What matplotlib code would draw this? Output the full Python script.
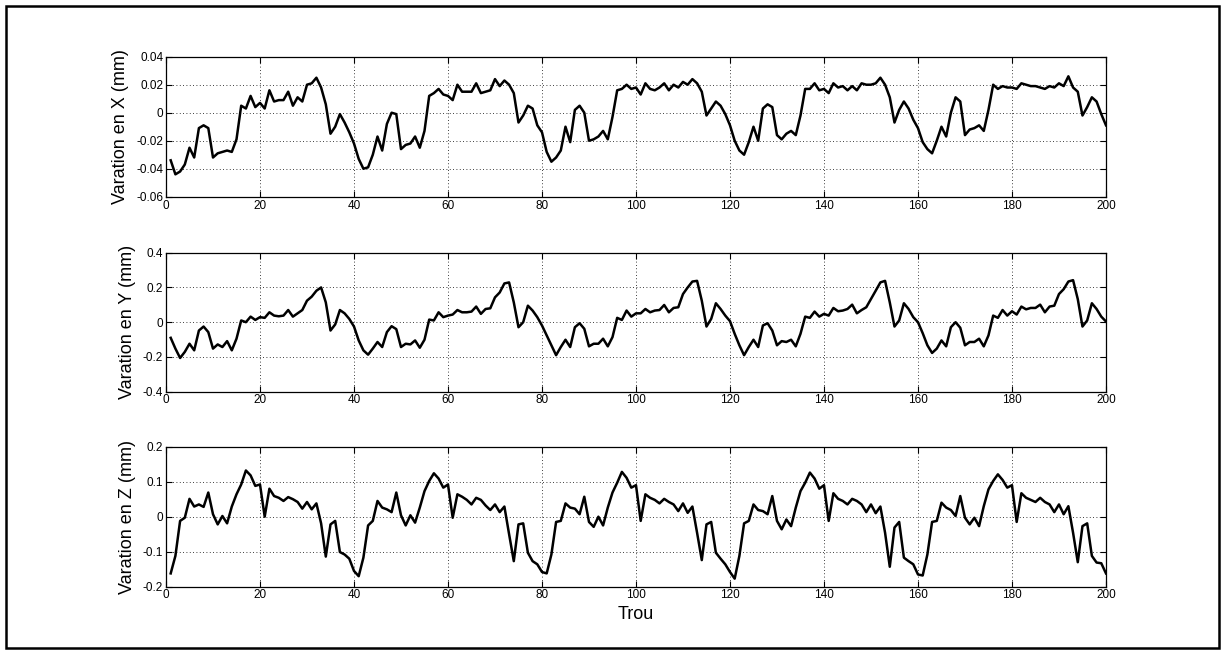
import matplotlib
matplotlib.use("Agg")
import matplotlib.pyplot as plt
from matplotlib.patches import Rectangle
import numpy as np

plt.rcParams['font.family'] = ['Liberation Sans', 'DejaVu Sans']

holes = list(range(1, 201))

var_x = [
    -0.034, -0.044, -0.042, -0.037, -0.025, -0.032, -0.011, -0.009, -0.011, -0.032,
    -0.029, -0.028, -0.027, -0.028, -0.019, 0.005, 0.003, 0.012, 0.004, 0.007,
    0.003, 0.016, 0.008, 0.009, 0.009, 0.015, 0.005, 0.011, 0.008, 0.020,
    0.021, 0.025, 0.018, 0.006, -0.015, -0.010, -0.001, -0.007, -0.014, -0.022,
    -0.033, -0.040, -0.039, -0.030, -0.017, -0.027, -0.008, 0.000, -0.001, -0.026,
    -0.023, -0.022, -0.017, -0.025, -0.013, 0.012, 0.014, 0.017, 0.013, 0.012,
    0.009, 0.020, 0.015, 0.015, 0.015, 0.021, 0.014, 0.015, 0.016, 0.024,
    0.019, 0.023, 0.020, 0.014, -0.007, -0.002, 0.005, 0.003, -0.009, -0.014,
    -0.028, -0.035, -0.032, -0.027, -0.010, -0.021, 0.002, 0.005, 0.000, -0.020,
    -0.019, -0.017, -0.013, -0.019, -0.003, 0.016, 0.017, 0.020, 0.017, 0.018,
    0.013, 0.021, 0.017, 0.016, 0.018, 0.021, 0.016, 0.020, 0.018, 0.022,
    0.020, 0.024, 0.021, 0.015, -0.002, 0.003, 0.008, 0.005, -0.001, -0.009,
    -0.020, -0.027, -0.030, -0.021, -0.010, -0.020, 0.003, 0.006, 0.004, -0.016,
    -0.019, -0.015, -0.013, -0.016, -0.002, 0.017, 0.017, 0.021, 0.016, 0.017,
    0.014, 0.021, 0.018, 0.019, 0.016, 0.019, 0.016, 0.021, 0.020, 0.020,
    0.021, 0.025, 0.020, 0.011, -0.007, 0.002, 0.008, 0.003, -0.005, -0.011,
    -0.021, -0.026, -0.029, -0.020, -0.010, -0.017, 0.000, 0.011, 0.008, -0.016,
    -0.012, -0.011, -0.009, -0.013, 0.002, 0.020, 0.017, 0.019, 0.018, 0.018,
    0.017, 0.021, 0.020, 0.019, 0.019, 0.018, 0.017, 0.019, 0.018, 0.021,
    0.019, 0.026, 0.018, 0.015, -0.002, 0.004, 0.011, 0.008, -0.001, -0.009,
]

var_y = [
    -0.090, -0.152, -0.206, -0.171, -0.124, -0.162, -0.048, -0.025, -0.057, -0.152,
    -0.128, -0.143, -0.109, -0.162, -0.095, 0.010, 0.000, 0.032, 0.013, 0.029,
    0.025, 0.057, 0.038, 0.034, 0.038, 0.070, 0.032, 0.051, 0.070, 0.124,
    0.147, 0.181, 0.200, 0.114, -0.048, -0.013, 0.070, 0.051, 0.019, -0.025,
    -0.105, -0.162, -0.187, -0.152, -0.114, -0.143, -0.057, -0.023, -0.040, -0.143,
    -0.124, -0.128, -0.105, -0.147, -0.101, 0.015, 0.010, 0.057, 0.029, 0.038,
    0.044, 0.070, 0.057, 0.057, 0.061, 0.090, 0.048, 0.076, 0.080, 0.143,
    0.171, 0.223, 0.229, 0.114, -0.029, 0.000, 0.095, 0.067, 0.029, -0.019,
    -0.076, -0.133, -0.190, -0.143, -0.101, -0.143, -0.029, -0.006, -0.038, -0.139,
    -0.124, -0.124, -0.095, -0.139, -0.086, 0.025, 0.013, 0.067, 0.032, 0.051,
    0.051, 0.076, 0.057, 0.067, 0.070, 0.099, 0.057, 0.082, 0.086, 0.162,
    0.200, 0.234, 0.238, 0.124, -0.025, 0.019, 0.109, 0.076, 0.038, 0.006,
    -0.067, -0.133, -0.190, -0.143, -0.101, -0.143, -0.019, -0.006, -0.048, -0.133,
    -0.109, -0.114, -0.101, -0.139, -0.067, 0.032, 0.025, 0.061, 0.032, 0.048,
    0.038, 0.082, 0.063, 0.067, 0.076, 0.101, 0.051, 0.070, 0.086, 0.133,
    0.181, 0.229, 0.238, 0.114, -0.025, 0.010, 0.109, 0.076, 0.029, 0.000,
    -0.063, -0.133, -0.177, -0.152, -0.105, -0.139, -0.029, 0.000, -0.032, -0.133,
    -0.114, -0.114, -0.095, -0.139, -0.076, 0.038, 0.025, 0.070, 0.038, 0.063,
    0.044, 0.090, 0.074, 0.082, 0.082, 0.101, 0.057, 0.090, 0.095, 0.162,
    0.190, 0.234, 0.242, 0.133, -0.025, 0.010, 0.109, 0.076, 0.032, 0.004,
]

var_z = [
    -0.162, -0.112, -0.012, -0.003, 0.051, 0.029, 0.035, 0.028, 0.069, 0.007,
    -0.022, 0.002, -0.019, 0.029, 0.064, 0.092, 0.132, 0.118, 0.088, 0.092,
    0.000, 0.080, 0.059, 0.054, 0.045, 0.056, 0.050, 0.042, 0.023, 0.042,
    0.021, 0.038, -0.019, -0.114, -0.022, -0.012, -0.101, -0.108, -0.120, -0.155,
    -0.170, -0.117, -0.025, -0.012, 0.045, 0.026, 0.021, 0.013, 0.069, 0.004,
    -0.025, 0.004, -0.017, 0.026, 0.073, 0.102, 0.124, 0.109, 0.083, 0.092,
    -0.003, 0.064, 0.057, 0.048, 0.035, 0.054, 0.048, 0.032, 0.019, 0.035,
    0.013, 0.029, -0.050, -0.127, -0.022, -0.019, -0.103, -0.127, -0.136, -0.158,
    -0.162, -0.108, -0.015, -0.012, 0.038, 0.026, 0.023, 0.007, 0.057, -0.015,
    -0.029, 0.000, -0.025, 0.026, 0.069, 0.097, 0.128, 0.111, 0.083, 0.090,
    -0.012, 0.064, 0.054, 0.048, 0.038, 0.051, 0.042, 0.035, 0.016, 0.038,
    0.011, 0.029, -0.046, -0.124, -0.022, -0.015, -0.103, -0.120, -0.136, -0.158,
    -0.177, -0.112, -0.019, -0.012, 0.035, 0.019, 0.016, 0.007, 0.059, -0.012,
    -0.036, -0.008, -0.027, 0.026, 0.073, 0.097, 0.126, 0.109, 0.080, 0.090,
    -0.012, 0.067, 0.051, 0.045, 0.035, 0.051, 0.045, 0.035, 0.013, 0.035,
    0.010, 0.029, -0.046, -0.143, -0.031, -0.015, -0.117, -0.127, -0.136, -0.165,
    -0.168, -0.108, -0.015, -0.012, 0.040, 0.026, 0.019, 0.002, 0.059, -0.003,
    -0.022, -0.003, -0.027, 0.030, 0.078, 0.102, 0.121, 0.105, 0.083, 0.090,
    -0.015, 0.067, 0.054, 0.048, 0.042, 0.054, 0.042, 0.035, 0.013, 0.035,
    0.007, 0.030, -0.046, -0.130, -0.027, -0.019, -0.112, -0.131, -0.133, -0.162,
]

xticks = list(range(0, 201, 20))
yticks_x = [-0.06, -0.04, -0.02, 0, 0.02, 0.04]
ylabels_x = ['-0.06', '-0.04', '-0.02', '0', '0.02', '0.04']
yticks_y = [-0.4, -0.2, 0, 0.2, 0.4]
ylabels_y = ['-0.4', '-0.2', '0', '0.2', '0.4']
yticks_z = [-0.2, -0.1, 0, 0.1, 0.2]
ylabels_z = ['-0.2', '-0.1', '0', '0.1', '0.2']

fig = plt.figure(figsize=(12.26, 6.54), dpi=100)
fig.patch.set_facecolor('white')

panels = [
    ([0.1354, 0.6992, 0.7667, 0.2141], var_x, yticks_x, ylabels_x, 'Varation en X (mm)'),
    ([0.1354, 0.4011, 0.7667, 0.2125], var_y, yticks_y, ylabels_y, 'Varation en Y (mm)'),
    ([0.1354, 0.1029, 0.7667, 0.2141], var_z, yticks_z, ylabels_z, 'Varation en Z (mm)'),
]

axes = []
for rect, data, yt, yl, lab in panels:
    ax = fig.add_axes(rect)
    ax.plot(holes, data, color='black', lw=1.8)
    ax.set_xlim(0, 200)
    ax.set_ylim(yt[0], yt[-1])
    ax.set_xticks(xticks)
    ax.set_xticklabels([str(t) for t in xticks])
    ax.set_yticks(yt)
    ax.set_yticklabels(yl)
    ax.grid(True, color='black', linestyle=(0, (1, 3)), linewidth=0.6)
    ax.tick_params(direction='in', length=4, width=0.8, labelsize=8.5,
                   top=True, right=True, pad=2)
    for s in ax.spines.values():
        s.set_linewidth(0.9)
    ax.set_ylabel(lab, fontsize=13, labelpad=5)
    axes.append(ax)

axes[2].set_xlabel('Trou', fontsize=13, labelpad=3)

fig.add_artist(Rectangle((6 / 1226, 6 / 654), 1213 / 1226, 642 / 654,
                         transform=fig.transFigure, fill=False,
                         edgecolor='black', linewidth=1.8))

fig.savefig('out.png', dpi=100)
